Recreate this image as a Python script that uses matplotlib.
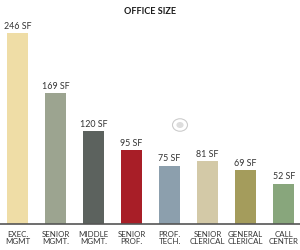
import matplotlib
matplotlib.use("Agg")
import matplotlib.pyplot as plt
from matplotlib.patches import Circle

categories = ["EXEC.\nMGMT", "SENIOR\nMGMT.", "MIDDLE\nMGMT.", "SENIOR\nPROF.",
              "PROF.\nTECH.", "SENIOR\nCLERICAL", "GENERAL\nCLERICAL", "CALL\nCENTER"]
sizes = [246, 169, 120, 95, 75, 81, 69, 52]
colors = ["#EFDDA6", "#9CA490", "#5C625E", "#A81E27",
          "#8C9FAD", "#D3C9A7", "#A49C5C", "#88A67C"]

plt.rcParams['font.family'] = ['Lato', 'DejaVu Sans']

fig = plt.figure(figsize=(3, 2.5), dpi=100)
ax = fig.add_axes([0, 0.104, 1, 0.816])

x = list(range(len(sizes)))
bars = ax.bar(x, sizes, width=0.57, color=colors)

for xi, v in zip(x, sizes):
    ax.text(xi, v + 3, f"{v} SF", ha='center', va='bottom',
            fontsize=6.4, color='#333333')

ax.set_xlim(-0.46, 7.43)
ax.set_ylim(0, 263)
ax.set_xticks(x)
ax.set_xticklabels(categories, fontsize=5.7, color='#333333', linespacing=1.05)
ax.tick_params(axis='x', length=0, pad=5)
ax.set_yticks([])
for s in ['top', 'left', 'right']:
    ax.spines[s].set_visible(False)
ax.spines['bottom'].set_color('#555555')
ax.spines['bottom'].set_linewidth(1.2)

fig.text(0.5, 0.955, "OFFICE SIZE", ha='center', va='center',
         fontsize=6.6, fontweight='bold', color='#1a1a1a')

# faint watermark circle
fig.patches.append(Circle((180 / 300, 1 - 125 / 250), 0.025, transform=fig.transFigure,
                          fill=False, edgecolor='#cccccc', linewidth=0.8))
fig.patches.append(Circle((180 / 300, 1 - 125 / 250), 0.012, transform=fig.transFigure,
                          facecolor='#dddddd', edgecolor='none'))

fig.savefig("out.png", dpi=100)
